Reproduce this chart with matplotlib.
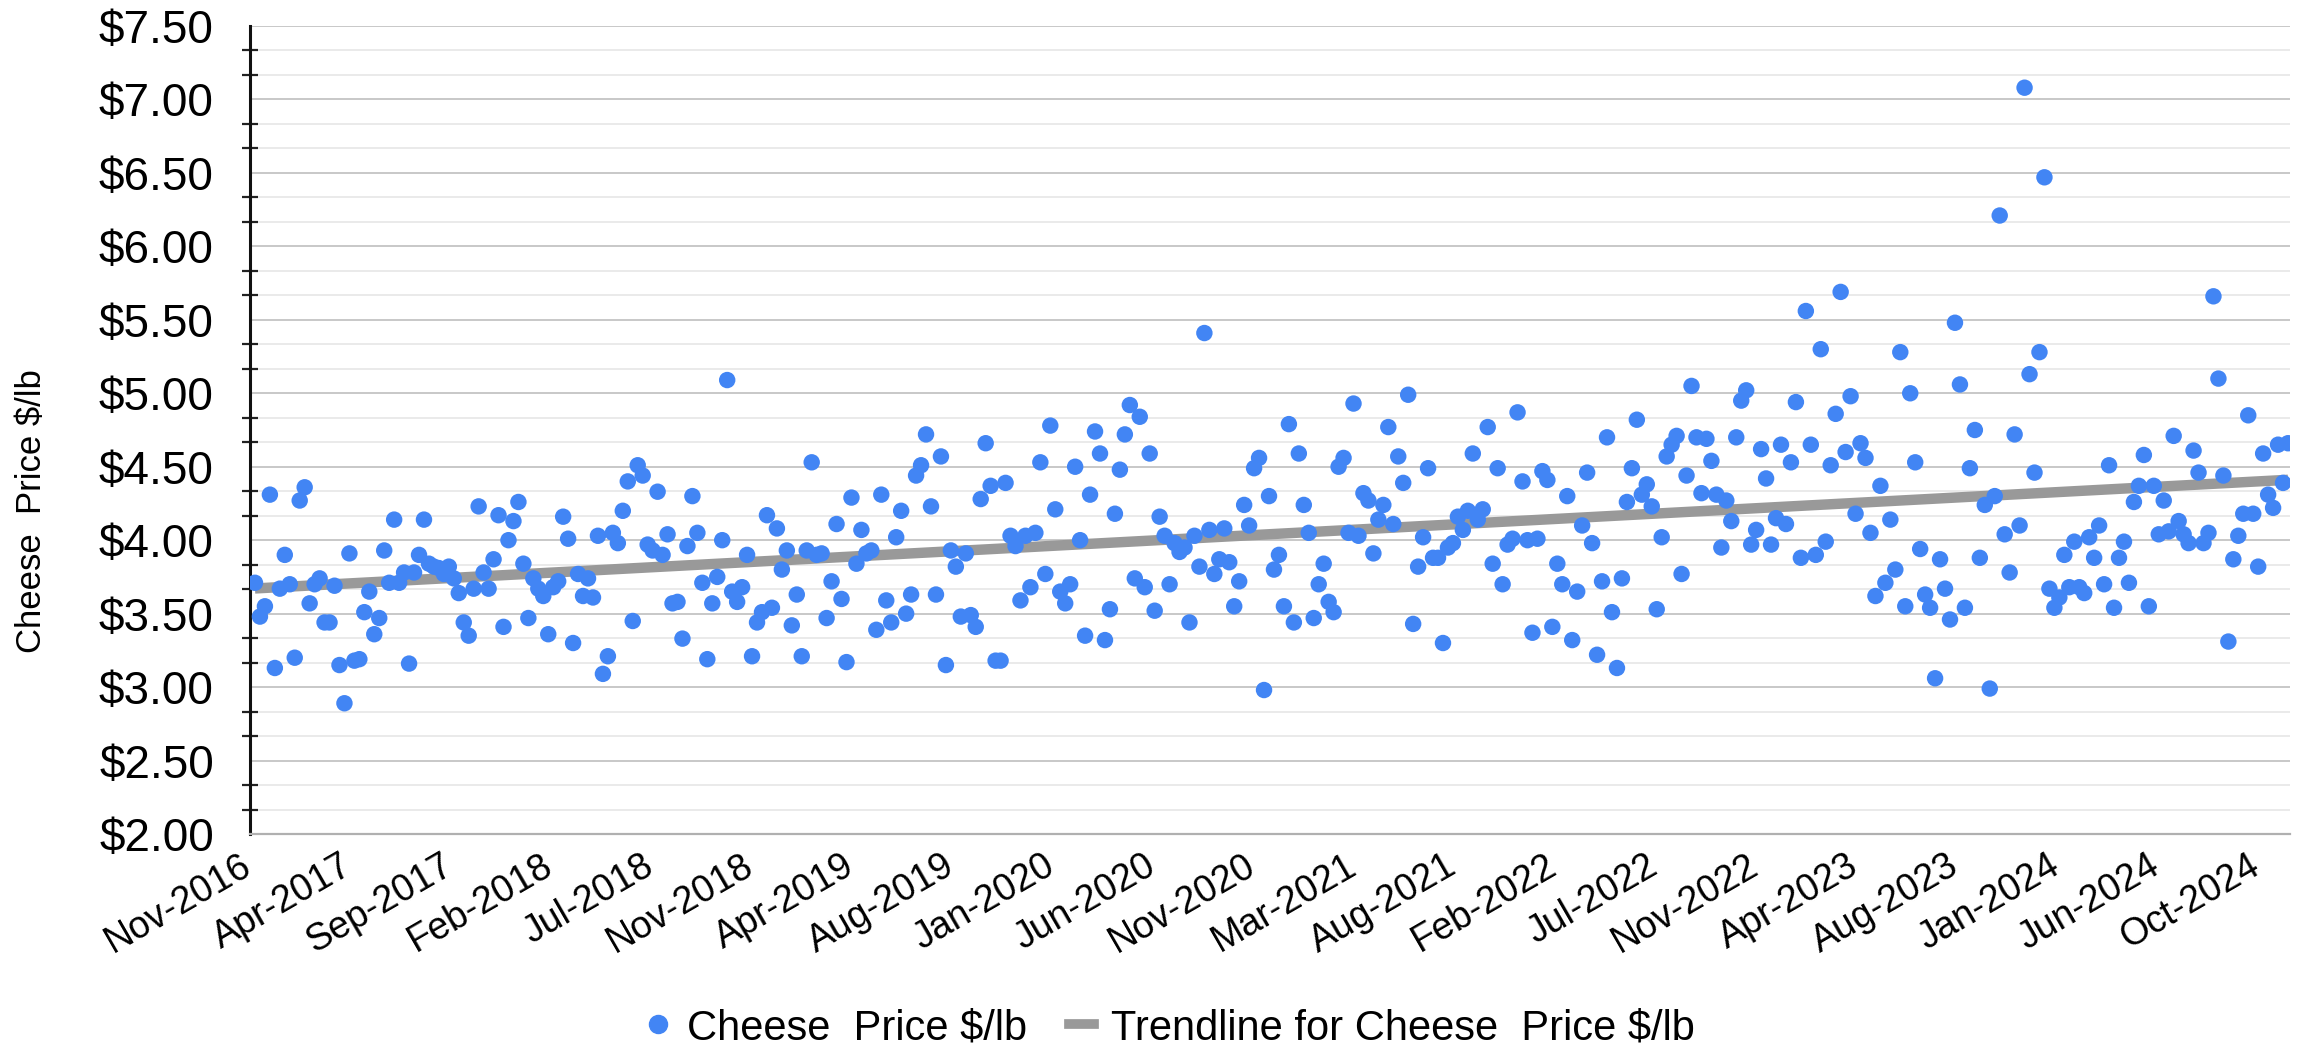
import numpy as np
import matplotlib.pyplot as plt
from matplotlib.ticker import MultipleLocator, FuncFormatter
from matplotlib.lines import Line2D
from matplotlib.transforms import ScaledTranslation

# weekly cheese price ($/lb) from left to right
prices_2016_17 = [3.71, 3.48, 3.55, 4.31, 3.13, 3.67, 3.90, 3.70, 3.20, 4.27, 4.36, 3.57, 3.70,
                  3.74, 3.44, 3.44, 3.69, 3.15, 2.89, 3.91, 3.18, 3.19, 3.51, 3.65, 3.36, 3.47,
                  3.93, 3.71, 4.14, 3.71, 3.78, 3.16, 3.78, 3.90, 4.14, 3.84, 3.82, 3.81, 3.77,
                  3.82, 3.74, 3.64, 3.44, 3.35, 3.67, 4.23, 3.78, 3.67, 3.87, 4.17, 3.41, 4.00, 4.13]
prices_2018 = [4.26, 3.84, 3.47, 3.74, 3.67, 3.62, 3.36, 3.68, 3.72, 4.16, 4.01, 3.30, 3.77,
               3.62, 3.74, 3.61, 4.03, 3.09, 3.21, 4.05, 3.98, 4.20, 4.40, 3.45, 4.51, 4.44,
               3.97, 3.93, 4.33, 3.90, 4.04, 3.57, 3.58, 3.33, 3.96, 4.30, 4.05, 3.71, 3.19,
               3.57, 3.75, 4.00, 5.09, 3.65, 3.58, 3.68, 3.90, 3.21, 3.44, 3.51, 4.17]
prices_2019 = [3.54, 4.08, 3.80, 3.93, 3.42, 3.63, 3.21, 3.93, 4.53, 3.90, 3.91, 3.47, 3.72,
               4.11, 3.60, 3.17, 4.29, 3.84, 4.07, 3.91, 3.93, 3.39, 4.31, 3.59, 3.44, 4.02,
               4.20, 3.50, 3.63, 4.44, 4.51, 4.72, 4.23, 3.63, 4.57, 3.15, 3.93, 3.82, 3.48,
               3.91, 3.49, 3.41, 4.28, 4.66, 4.37, 3.18, 3.18, 4.39, 4.03, 3.96, 3.59, 4.03, 3.68]
prices_2020 = [4.05, 4.53, 3.77, 4.78, 4.21, 3.65, 3.57, 3.70, 4.50, 4.00, 3.35, 4.31, 4.74,
               4.59, 3.32, 3.53, 4.18, 4.48, 4.72, 4.92, 3.74, 4.84, 3.68, 4.59, 3.52, 4.16,
               4.03, 3.70, 3.98, 3.92, 3.95, 3.44, 4.03, 3.82, 5.41, 4.07, 3.77, 3.87, 4.08,
               3.85, 3.55, 3.72, 4.24, 4.10, 4.49, 4.56, 2.98, 4.30, 3.80, 3.90, 3.55, 4.79, 3.44]
prices_2021 = [4.59, 4.24, 4.05, 3.47, 3.70, 3.84, 3.58, 3.51, 4.50, 4.56, 4.05, 4.93, 4.03,
               4.32, 4.27, 3.91, 4.14, 4.24, 4.77, 4.11, 4.57, 4.39, 4.99, 3.43, 3.82, 4.02,
               4.49, 3.88, 3.88, 3.30, 3.95, 3.98, 4.16, 4.07, 4.20, 4.59, 4.14, 4.21, 4.77,
               3.84, 4.49, 3.70, 3.97, 4.01, 4.87, 4.40, 4.00, 3.37, 4.01, 4.47]
prices_2022 = [4.41, 3.41, 3.84, 3.70, 4.30, 3.32, 3.65, 4.10, 4.46, 3.98, 3.22, 3.72, 4.70,
               3.51, 3.13, 3.74, 4.26, 4.49, 4.82, 4.31, 4.38, 4.23, 3.53, 4.02, 4.57, 4.65,
               4.71, 3.77, 4.44, 5.05, 4.70, 4.32, 4.69, 4.54, 4.31, 3.95, 4.27, 4.13, 4.70,
               4.95, 5.02, 3.97, 4.07, 4.62, 4.42, 3.97, 4.15, 4.65, 4.11, 4.53, 4.94, 3.88, 5.56]
prices_2023 = [4.65, 3.90, 5.30, 3.99, 4.51, 4.86, 5.69, 4.60, 4.98, 4.18, 4.66, 4.56, 4.05,
               3.62, 4.37, 3.71, 4.14, 3.80, 5.28, 3.55, 5.00, 4.53, 3.94, 3.63, 3.54, 3.06,
               3.87, 3.67, 3.46, 5.48, 5.06, 3.54, 4.49, 4.75, 3.88, 4.24, 2.99, 4.30, 6.21,
               4.04, 3.78, 4.72, 4.10, 7.08, 5.13, 4.46, 5.28, 6.47, 3.67, 3.54, 3.61, 3.90]
prices_2024 = [3.68, 3.99, 3.68, 3.64, 4.02, 3.88, 4.10, 3.70, 4.51, 3.54, 3.88, 3.99, 3.71,
               4.26, 4.37, 4.58, 3.55, 4.37, 4.04, 4.27, 4.06, 4.71, 4.13, 4.04, 3.98, 4.61,
               4.46, 3.98, 4.05, 5.66, 5.10, 4.44, 3.31, 3.87, 4.03, 4.18, 4.85, 4.18, 3.82,
               4.59, 4.31, 4.22, 4.65, 4.39, 4.66]

prices = (prices_2016_17 + prices_2018 + prices_2019 + prices_2020 +
          prices_2021 + prices_2022 + prices_2023 + prices_2024)

month_labels = ["Nov-2016", "Apr-2017", "Sep-2017", "Feb-2018", "Jul-2018", "Nov-2018",
                "Apr-2019", "Aug-2019", "Jan-2020", "Jun-2020", "Nov-2020", "Mar-2021",
                "Aug-2021", "Feb-2022", "Jul-2022", "Nov-2022", "Apr-2023", "Aug-2023",
                "Jan-2024", "Jun-2024", "Oct-2024"]
label_step = 20.2  # weeks between shown date labels

series_name = "Cheese  Price $/lb"
blue = "#4285F4"
trend_grey = "#999999"

x = np.arange(len(prices))
slope, icept = np.polyfit(x, prices, 1)

plt.rcParams["font.family"] = ["Liberation Sans", "DejaVu Sans"]

fig = plt.figure(figsize=(23.03, 10.51), dpi=100)
ax = fig.add_axes([250 / 2303, 1 - 834 / 1051, 2040 / 2303, 808 / 1051])

ax.plot(x, slope * x + icept, color=trend_grey, lw=7.5, solid_capstyle="butt", zorder=2)
ax.scatter(x, prices, s=140, color=blue, edgecolors="none", zorder=3)

ax.set_xlim(-1.0, len(prices) - 0.6)
ax.set_ylim(2.0, 7.5)

ax.yaxis.set_major_locator(MultipleLocator(0.5))
ax.yaxis.set_minor_locator(MultipleLocator(0.5 / 3))
ax.yaxis.set_major_formatter(FuncFormatter(lambda v, p: f"${v:.2f}"))
ax.tick_params(axis="y", which="major", length=0, pad=26, labelsize=33)
ax.tick_params(axis="y", which="minor", length=12, width=1.6, direction="inout", color="#222222")
ax.grid(axis="y", which="major", color="#c8c8c8", lw=1.4, zorder=0)
ax.grid(axis="y", which="minor", color="#e6e6e6", lw=1.2, zorder=0)

ax.set_xticks(np.arange(len(month_labels)) * label_step)
ax.set_xticklabels(month_labels, rotation=30, ha="right", va="top", rotation_mode="anchor", fontsize=27)
ax.tick_params(axis="x", length=0, pad=10)
shift = ScaledTranslation(-0.15, 0, fig.dpi_scale_trans)
for lbl in ax.get_xticklabels():
    lbl.set_transform(lbl.get_transform() + shift)

for side in ["top", "right"]:
    ax.spines[side].set_visible(False)
ax.spines["left"].set_color("#111111")
ax.spines["left"].set_linewidth(2.2)
ax.spines["bottom"].set_color("#b0b0b0")
ax.spines["bottom"].set_linewidth(1.6)

fig.text(32 / 2303, 1 - 511 / 1051, series_name, rotation=90, ha="center", va="center", fontsize=25)

handles = [Line2D([], [], marker="o", ls="none", color=blue, markersize=13),
           Line2D([], [], color=trend_grey, lw=7)]
fig.legend(handles, [series_name, "Trendline for " + series_name], loc="center",
           bbox_to_anchor=(0.508, 1 - 1028 / 1051), ncol=2, frameon=False, fontsize=30,
           handlelength=0.6, handletextpad=0.4, columnspacing=1.0)

fig.savefig("out.png", dpi=100)
